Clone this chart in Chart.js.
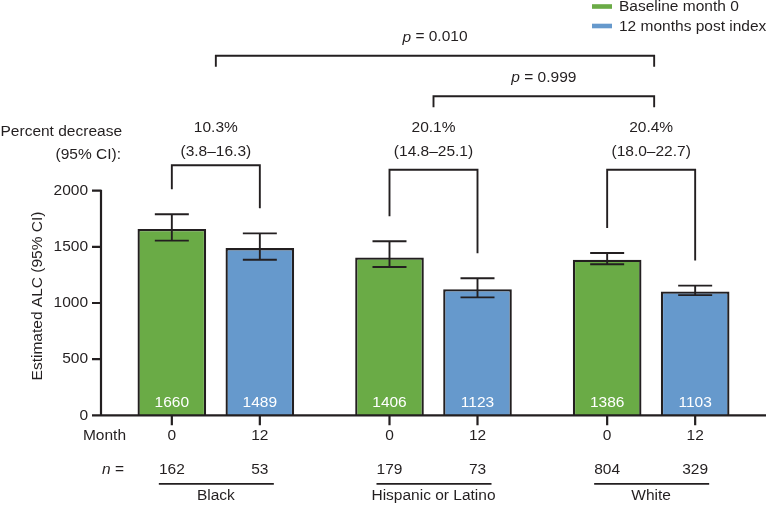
<!DOCTYPE html>
<html>
<head>
<meta charset="utf-8">
<script src="https://cdn.jsdelivr.net/npm/chart.js@4.4.1/dist/chart.umd.min.js"></script>
<style>
    html, body { margin: 0; padding: 0; background: #fff; }
    #wrap { width: 768px; height: 505px; }
</style>
</head>
<body>
<div id="wrap"><canvas id="alc-chart"></canvas></div>
<script>
const groups = ['Black', 'Hispanic or Latino', 'White'];
const monthLabels = ['0', '12'];
const seriesNames = ['Baseline month 0', '12 months post index'];
const baseline = [1660, 1406, 1386];
const postIndex = [1489, 1123, 1103];
const baselineCiLow = [1555, 1320, 1345];
const baselineCiHigh = [1790, 1550, 1445];
const postCiLow = [1385, 1050, 1070];
const postCiHigh = [1620, 1220, 1155];
const baselineN = [162, 179, 804];
const postN = [53, 73, 329];
const pctDecrease = ['10.3%', '20.1%', '20.4%'];
const pctCi = ['(3.8–16.3)', '(14.8–25.1)', '(18.0–22.7)'];
const pComparisons = [
    { from: 0, to: 2, text: '0.010' },
    { from: 1, to: 2, text: '0.999' }
];
const yTicks = [0, 500, 1000, 1500, 2000];

const FONT = '"Liberation Sans", Arial, sans-serif';
const INK = '#231f20';
const SIZE = 15.5;

function font(style) {
    return (style ? style + ' ' : '') + SIZE + 'px ' + FONT;
}

// p = value, with the p in italics, centred on cx
function drawP(ctx, text, cx, cy) {
    ctx.font = font('italic');
    const wp = ctx.measureText('p').width;
    ctx.font = font();
    const rest = ' = ' + text;
    const wr = ctx.measureText(rest).width;
    const x0 = cx - (wp + wr) / 2;
    ctx.textAlign = 'left';
    ctx.font = font('italic');
    ctx.fillText('p', x0, cy);
    ctx.font = font();
    ctx.fillText(rest, x0 + wp, cy);
}

const annotations = {
    id: 'annotations',
    afterDatasetsDraw(chart) {
        const { ctx, chartArea: area, scales: { y } } = chart;
        const bars = [chart.getDatasetMeta(0).data, chart.getDatasetMeta(1).data];
        const ci = [[baselineCiLow, baselineCiHigh], [postCiLow, postCiHigh]];
        const nums = [baselineN, postN];
        const values = [baseline, postIndex];
        const axisX = area.left - 6;
        const centers = groups.map((g, i) => (bars[0][i].x + bars[1][i].x) / 2);

        ctx.save();
        ctx.strokeStyle = INK;
        ctx.fillStyle = INK;
        ctx.textBaseline = 'middle';

        // error bars
        ctx.lineWidth = 1.9;
        bars.forEach((set, d) => set.forEach((bar, i) => {
            const lo = y.getPixelForValue(ci[d][0][i]);
            const hi = y.getPixelForValue(ci[d][1][i]);
            ctx.beginPath();
            ctx.moveTo(bar.x, lo); ctx.lineTo(bar.x, hi);
            ctx.moveTo(bar.x - 17, lo); ctx.lineTo(bar.x + 17, lo);
            ctx.moveTo(bar.x - 17, hi); ctx.lineTo(bar.x + 17, hi);
            ctx.stroke();
        }));

        // value labels inside the bars
        ctx.fillStyle = '#ffffff';
        ctx.font = font();
        ctx.textAlign = 'center';
        bars.forEach((set, d) => set.forEach((bar, i) => {
            ctx.fillText(String(values[d][i]), bar.x, area.bottom - 12.5);
        }));
        ctx.fillStyle = INK;

        // axes
        ctx.lineWidth = 2.2;
        ctx.beginPath();
        ctx.moveTo(axisX, area.top - 1);
        ctx.lineTo(axisX, area.bottom);
        ctx.lineTo(chart.width - 2, area.bottom);
        yTicks.forEach(v => {
            const py = y.getPixelForValue(v);
            ctx.moveTo(axisX - 9, py);
            ctx.lineTo(axisX, py);
        });
        bars.forEach(set => set.forEach(bar => {
            ctx.moveTo(bar.x, area.bottom);
            ctx.lineTo(bar.x, area.bottom + 10);
        }));
        ctx.stroke();

        // y title
        ctx.save();
        ctx.translate(38, 296);
        ctx.rotate(-Math.PI / 2);
        ctx.textAlign = 'center';
        ctx.font = font();
        ctx.fillText('Estimated ALC (95% CI)', 0, 0);
        ctx.restore();

        // month row, n row, group labels
        ctx.font = font();
        ctx.textAlign = 'right';
        ctx.fillText('Month', 126, area.bottom + 20);
        ctx.fillText(' =', 124, area.bottom + 54);
        const wEq = ctx.measureText(' =').width;
        ctx.font = font('italic');
        ctx.fillText('n', 124 - wEq, area.bottom + 54);
        ctx.font = font();
        ctx.textAlign = 'center';
        bars.forEach((set, d) => set.forEach((bar, i) => {
            ctx.fillText(monthLabels[d], bar.x, area.bottom + 20);
            ctx.fillText(String(nums[d][i]), bar.x, area.bottom + 54);
        }));
        ctx.lineWidth = 1.8;
        centers.forEach((cx, i) => {
            ctx.beginPath();
            ctx.moveTo(cx - 57, area.bottom + 68.5);
            ctx.lineTo(cx + 58, area.bottom + 68.5);
            ctx.stroke();
            ctx.fillText(groups[i], cx, area.bottom + 80.5);
        });

        // percent decrease brackets
        ctx.lineWidth = 1.9;
        ctx.textAlign = 'right';
        ctx.fillText('Percent decrease', 122, area.top - 59);
        ctx.fillText('(95% CI):', 121, area.top - 35.5);
        ctx.textAlign = 'center';
        centers.forEach((cx, i) => {
            const x0 = bars[0][i].x;
            const x1 = bars[1][i].x;
            const top = area.top - (i === 0 ? 25.5 : 21);
            const leg0 = y.getPixelForValue(baselineCiHigh[i]) - 25;
            const leg1 = y.getPixelForValue(postCiHigh[i]) - 25;
            ctx.beginPath();
            ctx.moveTo(x0, leg0);
            ctx.lineTo(x0, top);
            ctx.lineTo(x1, top);
            ctx.lineTo(x1, leg1);
            ctx.stroke();
            ctx.fillText(pctDecrease[i], cx, area.top - 62.5);
            ctx.fillText(pctCi[i], cx, area.top - 39);
        });

        // between-group comparisons
        pComparisons.forEach((c, k) => {
            const top = area.top - (k === 0 ? 135 : 94.5);
            const x0 = centers[c.from];
            const x1 = centers[c.to] + 3;
            ctx.beginPath();
            ctx.moveTo(x0, top + 11);
            ctx.lineTo(x0, top);
            ctx.lineTo(x1, top);
            ctx.lineTo(x1, top + 11);
            ctx.stroke();
            drawP(ctx, c.text, (x0 + x1) / 2, top - 18.5);
        });

        // legend
        ctx.textAlign = 'left';
        ctx.font = font();
        chart.data.datasets.forEach((ds, d) => {
            const cy = 6.5 + d * 19.5;
            ctx.fillStyle = ds.backgroundColor;
            ctx.fillRect(592, cy - 2.3, 20, 4.6);
            ctx.fillStyle = INK;
            ctx.fillText(ds.label, 619, cy + 0.5);
        });

        ctx.restore();
    }
};

const ctx = document.getElementById('alc-chart').getContext('2d');
const alcChart = new Chart(ctx, {
    type: 'bar',
    data: {
        labels: groups,
        datasets: [{
            label: seriesNames[0],
            data: baseline,
            backgroundColor: '#6aab46',
            borderColor: INK,
            borderWidth: 2.3
        }, {
            label: seriesNames[1],
            data: postIndex,
            backgroundColor: '#6699cc',
            borderColor: INK,
            borderWidth: 2.3
        }]
    },
    options: {
        responsive: true,
        maintainAspectRatio: false,
        animation: false,
        categoryPercentage: 0.8086,
        barPercentage: 0.78,
        layout: {
            padding: { top: 190.7, right: 8, bottom: 89.7, left: 0 }
        },
        plugins: {
            legend: { display: false },
            tooltip: { enabled: false }
        },
        scales: {
            x: {
                display: false
            },
            y: {
                min: 0,
                max: 2000,
                afterFit: scale => { scale.width = 107; },
                afterBuildTicks: scale => { scale.ticks = yTicks.map(v => ({ value: v })); },
                border: { display: false },
                grid: { display: false, drawTicks: false },
                ticks: {
                    padding: 19,
                    color: INK,
                    font: { family: FONT, size: SIZE },
                    callback: v => String(v)
                }
            }
        }
    },
    plugins: [annotations]
});
</script>
</body>
</html>
